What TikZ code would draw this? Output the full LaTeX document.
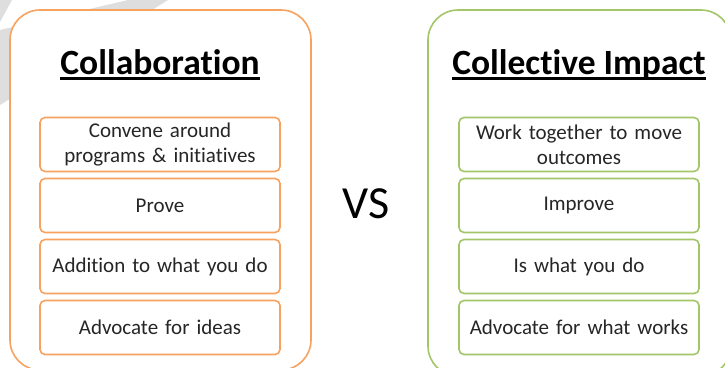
\documentclass[tikz,border=0pt]{standalone}
\usepackage{fontspec}
\setmainfont{Carlito}[Ligatures=NoCommon]
\usetikzlibrary{positioning}
\definecolor{collorange}{RGB}{247,162,94}
\definecolor{impactgreen}{RGB}{163,198,104}
\definecolor{markgray}{RGB}{222,222,222}

\begin{document}
\begin{tikzpicture}[x=1pt,y=-1pt,
		panel/.style={draw,line width=1.6pt,rounded corners=30pt,fill=white},
		item/.style={draw,line width=1.6pt,rounded corners=5pt,fill=white,minimum width=240pt,minimum height=54pt,text width=236pt,align=center,inner sep=0pt,outer sep=0pt,font=\fontsize{21}{25}\selectfont,text=black!85},
		heading/.style={inner sep=0pt,anchor=base,font=\fontsize{35.5}{40}\selectfont\bfseries}]
			\useasboundingbox (0,0) rectangle (725,367);
			\clip (0,0) rectangle (725,367);
	
			% gray stripes in the corner
			\fill[markgray] (128,0)--(168,0)--(0,105)--(0,30)--cycle;
			\fill[markgray] (0,0)--(12,0)--(0,22)--cycle;
	
			\draw[panel,draw=collorange] (10,10) rectangle (311,370);
			\draw[panel,draw=impactgreen] (428,10) rectangle (731,376);
	
			\node[heading] (collabtitle) at (160,74) {Collaboration};
			\node[heading] (impacttitle) at (579,74) {Collective Impact};
			\draw[line width=2.4pt] ([yshift=-4.5pt]collabtitle.base west) -- ([yshift=-4.5pt]collabtitle.base east);
			\draw[line width=2.4pt] ([yshift=-4.5pt]impacttitle.base west) -- ([yshift=-4.5pt]impacttitle.base east);
	
			\node[item,draw=collorange] (c1) at (160,144.5) {Convene around\\programs \& initiatives};
			\node[item,draw=collorange,below=7pt of c1] (c2) {Prove};
			\node[item,draw=collorange,below=7pt of c2] (c3) {Addition to what you do};
			\node[item,draw=collorange,below=7pt of c3] (c4) {Advocate for ideas};
	
			\node[item,draw=impactgreen] (i1) at (579,144.5) {Work together to move\\outcomes};
			\node[item,draw=impactgreen,below=7pt of i1] (i2) {Improve};
			\node[item,draw=impactgreen,below=7pt of i2] (i3) {Is what you do};
			\node[item,draw=impactgreen,below=7pt of i3] (i4) {Advocate for what works};
	
			\node[font=\fontsize{46}{50}\selectfont] (vs) at (366,204) {VS};
		\end{tikzpicture}
\end{document}
